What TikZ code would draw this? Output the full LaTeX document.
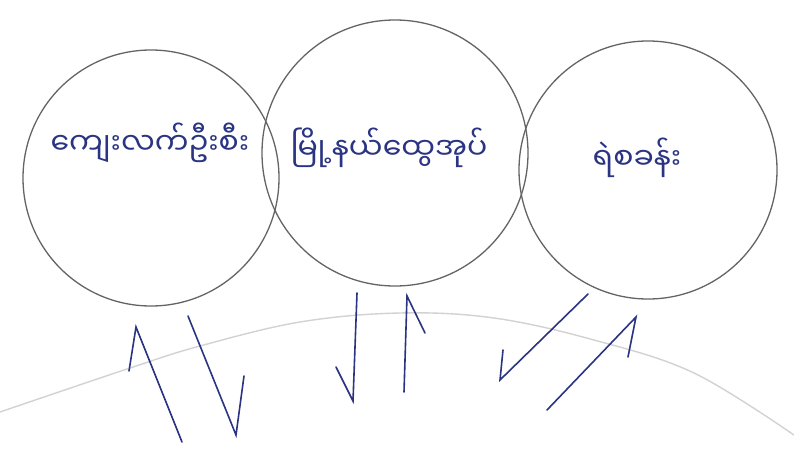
\documentclass[tikz,border=0pt]{standalone}
\usepackage{fontspec}
\newfontfamily\myfont[Script=Myanmar]{Noto Sans Myanmar UI}
\definecolor{pen}{RGB}{42,52,130}
\definecolor{ring}{RGB}{100,100,100}
\definecolor{faint}{RGB}{210,210,210}
\tikzset{
  ringnode/.style={circle, draw=ring, line width=1.3pt, inner sep=0pt},
  lbl/.style={font=\myfont\fontsize{30}{34}\selectfont, text=pen, inner sep=0pt},
  stroke/.style={draw=pen, line width=1.6pt, line cap=round, line join=miter},
  arc/.style={draw=faint, line width=1.4pt}
}
\begin{document}
\begin{tikzpicture}[x=1pt,y=-1pt]
\useasboundingbox (0,0) rectangle (794,450);
\fill[white] (0,0) rectangle (794,450);
% faint large arc
\draw[arc] plot[smooth, tension=0.6] coordinates {(0,412) (130,368) (200,346) (300,322) (400,313) (494,318) (594,340) (694,373) (794,435)};
% circles
\node[ringnode, minimum size=256pt] (c1) at (151,178) {};
\node[ringnode, minimum size=266pt] (c2) at (395,153) {};
\node[ringnode, minimum size=258pt] (c3) at (648,170) {};
% labels
\node[lbl] (t1) at (150,143) {ကျေးလက်ဦးစီး};
\node[lbl] (t2) at (389,148) {မြို့နယ်ထွေအုပ်};
\node[lbl] (t3) at (637,158) {ရဲစခန်း};
% strokes
\draw[stroke] (129,371) -- (136,327) -- (182,442);
\draw[stroke] (188,316) -- (236,435) -- (244,376);
\draw[stroke] (336,367) -- (353,401) -- (357,293);
\draw[stroke] (404,392) -- (407,296) -- (425,333);
\draw[stroke] (588,294) -- (500,380) -- (503,350);
\draw[stroke] (547,410) -- (636,317) -- (628,357);
\end{tikzpicture}
\end{document}
